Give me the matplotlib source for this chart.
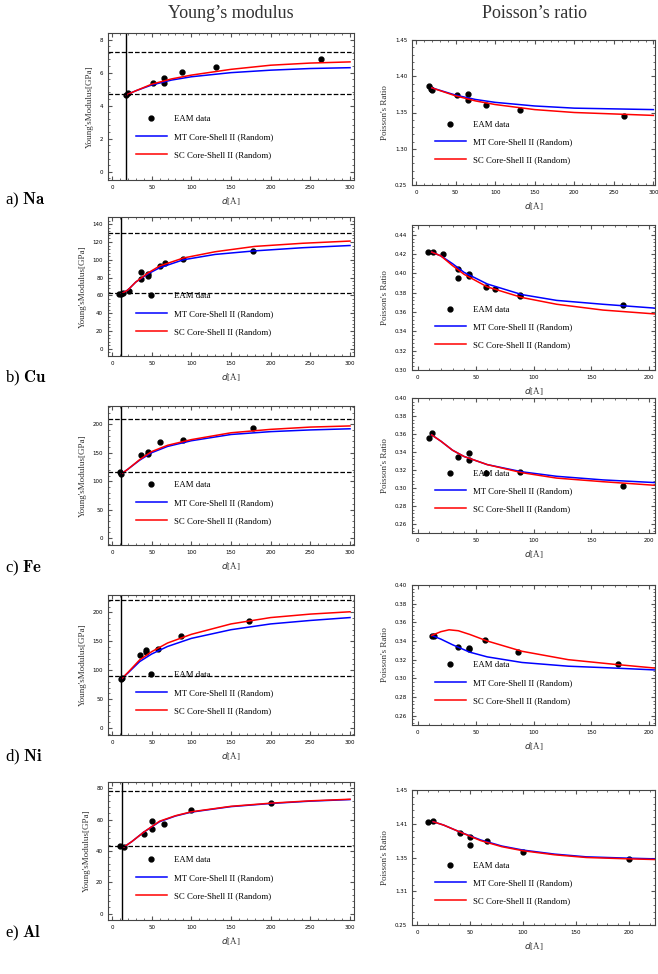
import matplotlib
matplotlib.use("Agg")
import matplotlib.pyplot as plt
from matplotlib.ticker import AutoMinorLocator

# ---------------- data ----------------
metals = ["a) $\\mathbf{Na}$", "b) $\\mathbf{Cu}$", "c) $\\mathbf{Fe}$", "d) $\\mathbf{Ni}$", "e) $\\mathbf{Al}$"]

# Young's modulus panels
ym_pts_d = [[18, 20, 52, 66, 66, 88, 131, 263],
            [9, 12, 14, 22, 36, 36, 45, 45, 60, 67, 89, 178],
            [10, 12, 36, 45, 45, 60, 89, 178],
            [12, 13, 35, 43, 43, 58, 87, 173],
            [10, 15, 40, 50, 50, 66, 100, 200]]
ym_pts_v = [[4.62, 4.78, 5.35, 5.7, 5.35, 6.02, 6.37, 6.8],
            [62, 62, 62.5, 65, 86, 78, 84, 82, 93, 96, 101, 110],
            [116, 112, 146, 152, 148, 169, 173, 193],
            [85, 87, 126, 135, 132, 136, 159, 185],
            [43.5, 42.5, 51, 59, 54, 57.5, 66, 70.5]]
ym_curve_d = [[18, 30, 50, 75, 100, 150, 200, 250, 300],
              [12, 20, 30, 45, 60, 90, 130, 180, 240, 300],
              [12, 20, 35, 50, 70, 100, 150, 200, 250, 300],
              [12, 20, 35, 50, 70, 100, 150, 200, 250, 300],
              [15, 25, 40, 60, 80, 100, 150, 200, 250, 300]]
ym_mt = [[4.65, 4.9, 5.25, 5.55, 5.75, 6.0, 6.15, 6.25, 6.3],
         [62, 66, 75, 84, 91, 100, 106, 110, 113.5, 116],
         [113, 121, 137, 150, 161, 171, 182, 187, 190, 192],
         [85, 95, 115, 128, 141, 155, 170, 180, 186, 191],
         [42.5, 46, 52, 58.7, 62.3, 64.8, 68.3, 70.3, 71.8, 72.8]]
ym_sc = [[4.65, 4.9, 5.3, 5.62, 5.85, 6.2, 6.45, 6.58, 6.65],
         [62, 66, 75, 85, 93, 102, 109, 115, 118.5, 121],
         [113, 121, 138, 152, 163, 173, 185, 191, 195, 197],
         [85, 96, 118, 132, 147, 162, 180, 191, 197, 201],
         [42.5, 46, 52, 59, 62.5, 65, 68.5, 70.5, 72, 73]]
ym_dash = [(4.7, 7.25), (62.5, 130.5), (116, 210), (90, 222), (43, 78)]
ym_vline = [18, 12, 12, 12, 13]
ym_ylim = [(-0.5, 8.4), (-8, 148), (-12, 232), (-12, 230), (-4, 84)]
ym_yticks = [[0, 2, 4, 6, 8], [0, 20, 40, 60, 80, 100, 120, 140],
             [0, 50, 100, 150, 200], [0, 50, 100, 150, 200], [0, 20, 40, 60, 80]]

# Poisson's ratio panels
pr_pts_d = [[17, 19, 20, 52, 66, 66, 88, 131, 263],
            [9, 13, 22, 35, 35, 44, 44, 59, 67, 88, 88, 177],
            [10, 12, 35, 44, 44, 59, 88, 177],
            [12, 14, 35, 44, 44, 58, 87, 173],
            [10, 15, 40, 50, 50, 66, 100, 200]]
pr_pts_v = [[0.386, 0.383, 0.381, 0.374, 0.376, 0.367, 0.361, 0.353, 0.345],
            [0.422, 0.422, 0.420, 0.405, 0.395, 0.399, 0.397, 0.386, 0.384, 0.378, 0.377, 0.367],
            [0.356, 0.361, 0.335, 0.339, 0.331, 0.317, 0.318, 0.302],
            [0.345, 0.345, 0.334, 0.332, 0.331, 0.341, 0.328, 0.315],
            [0.403, 0.404, 0.387, 0.380, 0.368, 0.374, 0.358, 0.348]]
pr_mt_d = [[20, 50, 75, 100, 150, 200, 250, 300],
           [12, 20, 30, 40, 60, 90, 120, 160, 205],
           [12, 20, 30, 40, 60, 90, 120, 160, 205],
           [12, 20, 30, 45, 60, 90, 130, 170, 205],
           [15, 25, 40, 60, 80, 100, 130, 160, 200, 225]]
pr_mt = [[0.384, 0.374, 0.368, 0.364, 0.359, 0.356, 0.355, 0.354],
         [0.422, 0.418, 0.410, 0.401, 0.389, 0.378, 0.372, 0.368, 0.364],
         [0.359, 0.352, 0.342, 0.335, 0.326, 0.318, 0.313, 0.309, 0.306],
         [0.346, 0.342, 0.336, 0.328, 0.323, 0.317, 0.313, 0.311, 0.309],
         [0.403, 0.398, 0.388, 0.376, 0.367, 0.361, 0.355, 0.351, 0.349, 0.348]]
pr_sc_d = [[20, 50, 75, 100, 150, 200, 250, 300],
           [12, 20, 30, 40, 60, 90, 120, 160, 205],
           [12, 20, 30, 40, 60, 90, 120, 160, 205],
           [12, 20, 27, 35, 45, 60, 90, 130, 170, 205],
           [15, 25, 40, 60, 80, 100, 130, 160, 200, 225]]
pr_sc = [[0.384, 0.373, 0.366, 0.361, 0.354, 0.350, 0.348, 0.346],
         [0.422, 0.418, 0.408, 0.399, 0.386, 0.375, 0.368, 0.362, 0.358],
         [0.359, 0.352, 0.342, 0.335, 0.326, 0.317, 0.311, 0.307, 0.303],
         [0.346, 0.350, 0.352, 0.351, 0.347, 0.340, 0.329, 0.320, 0.315, 0.311],
         [0.403, 0.398, 0.388, 0.375, 0.366, 0.360, 0.354, 0.350, 0.348, 0.347]]
pr_ylim = [(0.25, 0.45), (0.30, 0.45), (0.25, 0.40), (0.25, 0.40), (0.25, 0.45)]
pr_xlim = [(-5, 302), (-5, 205), (-5, 205), (-5, 205), (-5, 225)]
pr_yticks = [[0.25, 0.30, 0.35, 0.40, 0.45],
             [0.30, 0.32, 0.34, 0.36, 0.38, 0.40, 0.42, 0.44],
             [0.26, 0.28, 0.30, 0.32, 0.34, 0.36, 0.38, 0.40],
             [0.26, 0.28, 0.30, 0.32, 0.34, 0.36, 0.38, 0.40],
             [0.25, 0.30, 0.35, 0.40, 0.45]]
pr_ylabels = [["0.25", "1.30", "1.35", "1.40", "1.45"], None, None, None,
              ["0.25", "1.31", "1.35", "1.41", "1.45"]]

# ---------------- layout ----------------
W, H = 658, 974
left_rows = [(33, 180), (217, 356), (406, 545), (595, 735), (782, 920)]
right_rows = [(40, 185), (225, 370), (398, 533), (585, 725), (790, 925)]
label_y = [200, 378, 568, 757, 933]

serif = ["Liberation Serif", "DejaVu Serif"]
plt.rcParams["font.family"] = ["DejaVu Sans"]

fig = plt.figure(figsize=(W / 100, H / 100), dpi=100)


def box(x0, x1, y0, y1):
    return [x0 / W, 1 - y1 / H, (x1 - x0) / W, (y1 - y0) / H]


def style(ax):
    ax.tick_params(which="both", direction="in", top=True, right=True, labelsize=4, length=3, color="#555")
    ax.tick_params(which="minor", length=1.5)
    ax.xaxis.set_minor_locator(AutoMinorLocator(5))
    ax.yaxis.set_minor_locator(AutoMinorLocator(5))
    for s in ax.spines.values():
        s.set_linewidth(0.8)
        s.set_color("#444")
    ax.set_xlabel("$d$[Å]", family=serif, fontsize=6.5, color="#333")


for i in range(5):
    # Young's modulus
    ax = fig.add_axes(box(108, 354, *left_rows[i]))
    ax.plot(ym_pts_d[i], ym_pts_v[i], "o", color="k", ms=3.5, label="EAM data")
    ax.plot(ym_curve_d[i], ym_mt[i], color="blue", lw=1.1, label="MT Core-Shell II (Random)")
    ax.plot(ym_curve_d[i], ym_sc[i], color="red", lw=1.1, label="SC Core-Shell II (Random)")
    for v in ym_dash[i]:
        ax.axhline(v, color="k", ls="--", lw=0.9)
    ax.axvline(ym_vline[i], color="k", lw=1.0)
    ax.set_xlim(-5, 305)
    ax.set_ylim(*ym_ylim[i])
    ax.set_xticks([0, 50, 100, 150, 200, 250, 300])
    ax.set_yticks(ym_yticks[i])
    ax.set_ylabel("Young'sModulus[GPa]", family=serif, fontsize=6.5, color="#333")
    style(ax)
    ax.legend(loc=(0.1, 0.12), frameon=False, handlelength=3.5,
              labelspacing=1.1, prop={"family": serif, "size": 6.3})

    # Poisson's ratio
    ax = fig.add_axes(box(412, 655, *right_rows[i]))
    ax.plot(pr_pts_d[i], pr_pts_v[i], "o", color="k", ms=3.5, label="EAM data")
    ax.plot(pr_mt_d[i], pr_mt[i], color="blue", lw=1.1, label="MT Core-Shell II (Random)")
    ax.plot(pr_sc_d[i], pr_sc[i], color="red", lw=1.1, label="SC Core-Shell II (Random)")
    ax.set_xlim(*pr_xlim[i])
    ax.set_ylim(*pr_ylim[i])
    ax.set_xticks([t for t in [0, 50, 100, 150, 200, 250, 300] if t <= pr_xlim[i][1]])
    ax.set_yticks(pr_yticks[i])
    if pr_ylabels[i]:
        ax.set_yticklabels(pr_ylabels[i])
    else:
        ax.set_yticklabels([f"{t:.2f}" for t in pr_yticks[i]])
    ax.set_ylabel("Poisson's Ratio", family=serif, fontsize=6.5, color="#333")
    style(ax)
    ax.legend(loc=(0.08, 0.12), frameon=False, handlelength=3.5,
              labelspacing=1.1, prop={"family": serif, "size": 6.3})

    fig.text(5 / W, 1 - label_y[i] / H, metals[i], fontsize=12, family=serif,
             va="center", ha="left", math_fontfamily="cm")

fig.text(231 / W, 1 - 14 / H, "Young\u2019s modulus", fontsize=13, family=serif, ha="center", va="center", color="#333")
fig.text(535 / W, 1 - 14 / H, "Poisson\u2019s ratio", fontsize=13, family=serif, ha="center", va="center", color="#333")

fig.savefig("out.png", dpi=100)
